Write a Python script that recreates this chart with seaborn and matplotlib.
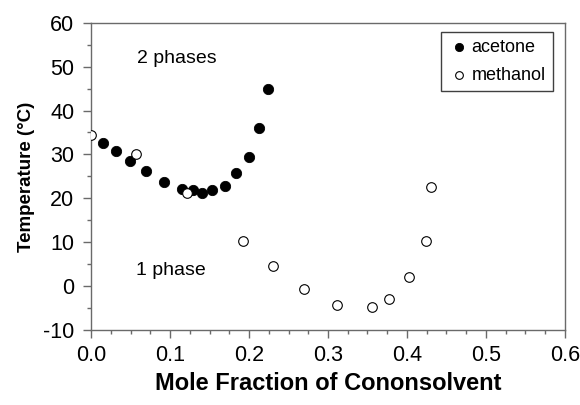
import matplotlib
matplotlib.use("Agg")
import matplotlib.pyplot as plt
import numpy as np
import pandas as pd
import seaborn as sns
from matplotlib.ticker import MultipleLocator, FormatStrFormatter

# acetone (filled) data
acetone_x = [0.015, 0.032, 0.049, 0.070, 0.092, 0.115, 0.129, 0.141, 0.153, 0.170, 0.184, 0.200, 0.213, 0.224]
acetone_t = [32.7, 30.8, 28.6, 26.2, 23.8, 22.2, 21.8, 21.3, 21.8, 22.8, 25.7, 29.5, 36.0, 44.9]

# methanol (open) data
methanol_x = [0.000, 0.057, 0.121, 0.192, 0.230, 0.269, 0.311, 0.356, 0.377, 0.403, 0.424, 0.431]
methanol_t = [34.4, 30.0, 21.3, 10.3, 4.7, -0.6, -4.4, -4.8, -2.9, 2.2, 10.3, 22.5]

df_a = pd.DataFrame({"x": acetone_x, "t": acetone_t})
df_m = pd.DataFrame({"x": methanol_x, "t": methanol_t})

sns.set_theme(style="ticks")
plt.rcParams["font.family"] = ["Liberation Sans", "DejaVu Sans"]
plt.rcParams["axes.unicode_minus"] = False
plt.rcParams["text.color"] = "black"
plt.rcParams["axes.labelcolor"] = "black"

fig, ax = plt.subplots(figsize=(5.8, 4.05), dpi=100)
fig.subplots_adjust(left=0.157, right=0.974, top=0.944, bottom=0.185)

sns.scatterplot(data=df_a, x="x", y="t", ax=ax, color="black", edgecolor="black",
                s=55, linewidth=0.6, label="acetone", zorder=3)
sns.scatterplot(data=df_m, x="x", y="t", ax=ax, color="white", edgecolor="black",
                s=48, linewidth=0.8, label="methanol", zorder=4)

ax.set_xlim(0, 0.6)
ax.set_ylim(-10, 60)
ax.xaxis.set_major_locator(MultipleLocator(0.1))
ax.xaxis.set_minor_locator(MultipleLocator(0.025))
ax.yaxis.set_major_locator(MultipleLocator(10))
ax.yaxis.set_minor_locator(MultipleLocator(5))
ax.xaxis.set_major_formatter(FormatStrFormatter("%.1f"))

for sp in ax.spines.values():
    sp.set_color("#6a6a6a")
    sp.set_linewidth(1.0)
ax.tick_params(which="major", direction="out", length=6, width=1, color="#6a6a6a",
               labelsize=15.5, labelcolor="black")
ax.tick_params(axis="y", which="major", pad=6)
ax.tick_params(axis="x", which="major", pad=5)
ax.tick_params(which="minor", direction="out", length=3, width=1, color="#6a6a6a")

ax.set_xlabel("Mole Fraction of Cononsolvent", fontsize=17, fontweight="bold",
              labelpad=4, color="black")
ax.set_ylabel("Temperature (°C)", fontsize=13.5, fontweight="bold", labelpad=6,
              color="black")

ax.text(0.108, 50.8, "2 phases", fontsize=14, ha="center", va="baseline", color="black")
ax.text(0.101, 2.5, "1 phase", fontsize=14, ha="center", va="baseline", color="black")

leg = ax.legend(loc="upper right", fontsize=13, frameon=True, fancybox=False,
                handletextpad=0.1, borderpad=0.4, labelspacing=0.6,
                borderaxespad=0, bbox_to_anchor=(0.975, 0.97), markerscale=0.8,
                handlelength=1.2, labelcolor="black")
leg.get_frame().set_edgecolor("#404040")
leg.get_frame().set_linewidth(1.0)
leg.get_frame().set_alpha(1)

fig.savefig("out.png", dpi=100, facecolor="white")
